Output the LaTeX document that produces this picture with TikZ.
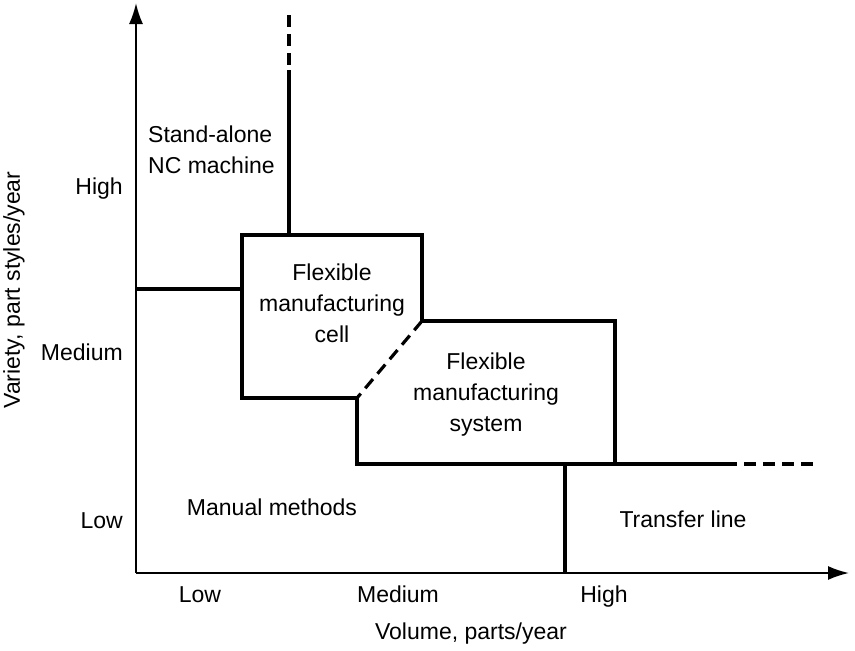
\documentclass[tikz,border=0pt]{standalone}
\usepackage{fontspec}
\setmainfont{Liberation Sans}
\usetikzlibrary{arrows.meta}

\begin{document}
\begin{tikzpicture}[x=1pt, y=-1pt,
  font=\fontsize{23}{31}\selectfont,
  region/.style={line width=3.2pt},
  dashregion/.style={region, dash pattern=on 12pt off 7pt},
  axis/.style={line width=2pt, -{Latex[length=21pt,width=14pt]}},
  lbl/.style={inner sep=0pt, align=center}]

\useasboundingbox (0,0) rectangle (855,651);

% axes
\coordinate (O) at (136,573);
\coordinate (ytop) at (136,3);
\coordinate (xend) at (849,573);
\draw[axis] (O) -- (ytop);
\draw[axis] (O) -- (xend);

% corners of the regions
\coordinate (nc1) at (289,15);
\coordinate (nc2) at (289,70);
\coordinate (nc3) at (289,235);
\coordinate (man) at (136,289);
\coordinate (c1) at (242,235);
\coordinate (c2) at (422,235);
\coordinate (c3) at (422,321);
\coordinate (c4) at (357,398);
\coordinate (c5) at (242,398);
\coordinate (c6) at (242,289);
\coordinate (s1) at (615,321);
\coordinate (s2) at (615,464);
\coordinate (s3) at (357,464);
\coordinate (t1) at (725,464);
\coordinate (t2) at (815,464);
\coordinate (t3) at (565,464);
\coordinate (t4) at (565,573);

\draw[dashregion] (nc1) -- (nc2);
\draw[region] (nc2) -- (nc3);
\draw[region] (man) -- (c6);
\draw[region, line join=miter] (c4) -- (c5) -- (c1) -- (c2) -- (c3) -- (s1) -- (s2) -- (s3) -- (c4);
\draw[dashregion] (c3) -- (c4);
\draw[region] (s2) -- (t1);
\draw[dashregion] (t1) -- (t2);
\draw[region] (t3) -- (t4);

% region labels
\node[lbl, align=left, anchor=west] (nc) at (148,150) {Stand-alone\\NC machine};
\node[lbl] (fmc) at (332,303) {Flexible\\manufacturing\\cell};
\node[lbl] (fms) at (486,395) {Flexible\\manufacturing\\system};
\node[lbl, anchor=base] (manual) at (272,515) {Manual methods};
\node[lbl, anchor=base] (transfer) at (683,527) {Transfer line};

% axis labels
\node[lbl, anchor=base east] (yhigh) at (123,194) {High};
\node[lbl, anchor=base east] (ymed) at (123,360) {Medium};
\node[lbl, anchor=base east] (ylow) at (123,528) {Low};
\node[lbl, anchor=base] (xlow) at (200,602) {Low};
\node[lbl, anchor=base] (xmed) at (398,602) {Medium};
\node[lbl, anchor=base] (xhigh) at (604,602) {High};
\node[lbl, anchor=base] (xtitle) at (471,639) {Volume, parts/year};
\node[lbl, rotate=90] (ytitle) at (14,290) {Variety, part styles/year};

\end{tikzpicture}
\end{document}
